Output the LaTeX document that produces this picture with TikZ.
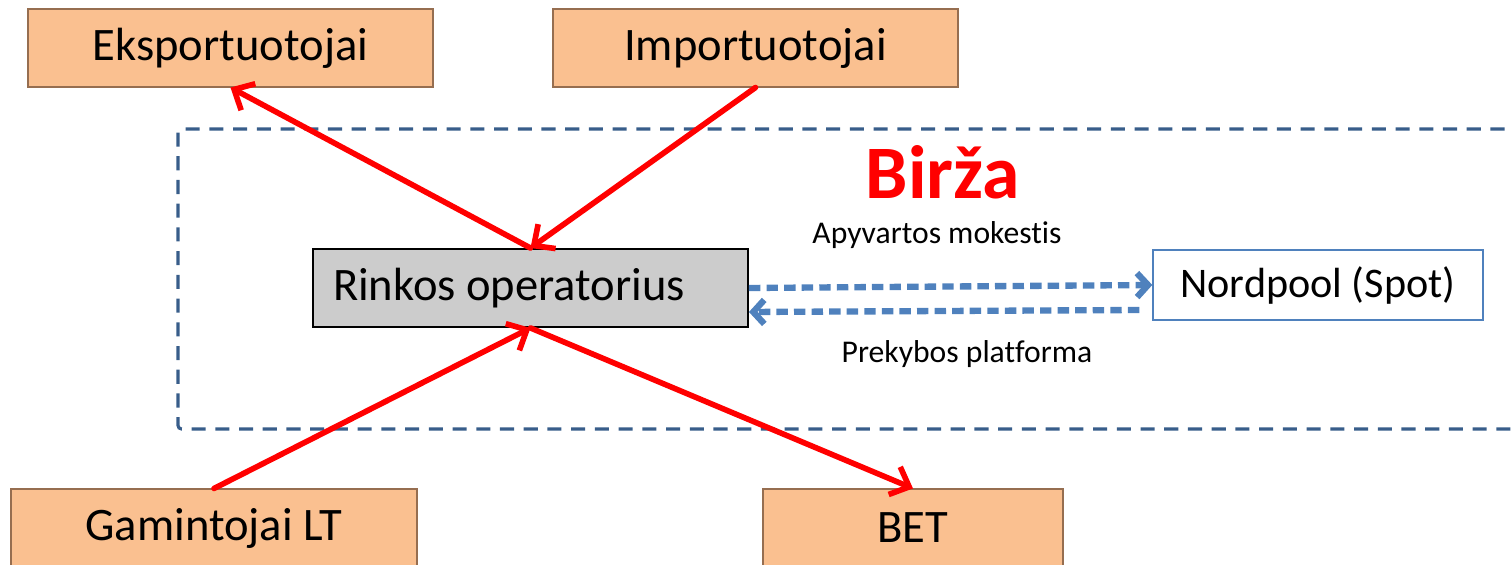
\documentclass[tikz,border=0pt]{standalone}
\usepackage{fontspec}
\setmainfont{Carlito}[Ligatures=NoCommon]
\usetikzlibrary{arrows.meta, positioning, calc}
\definecolor{partyorange}{RGB}{250,192,144}
\definecolor{partyedge}{RGB}{150,110,80}
\definecolor{operatorgrey}{RGB}{204,204,204}
\definecolor{spotblue}{RGB}{79,129,189}
\definecolor{frameblue}{RGB}{56,93,138}
\definecolor{flowred}{RGB}{255,0,0}

\begin{document}
\begin{tikzpicture}[
    party/.style={rectangle, draw=partyedge, line width=0.6pt, fill=partyorange,
                  minimum width=#1, minimum height=1.56cm, font=\fontsize{26.5}{30}\selectfont},
    flow/.style={draw=flowred, line width=3.2pt, line cap=round,
                 -{Straight Barb[length=3.2mm,width=6mm]}},
    trade/.style={draw=spotblue, line width=3.6pt, dash pattern=on 6.5pt off 3.5pt,
                  -{Straight Barb[length=2.2mm,width=4.8mm]}},
    lbl/.style={font=\fontsize{18}{21}\selectfont}
]
    \useasboundingbox (0,0) rectangle (30.22,-11.3);

    % Exchange frame
    \draw[frameblue, line width=1.8pt, dash pattern=on 8pt off 5.5pt, rounded corners=2pt]
        (3.56,-2.58) rectangle (30.6,-8.58);
    \node[font=\fontsize{43}{47}\selectfont\bfseries, text=flowred] (birza) at (18.86,-3.44) {Birža};

    % Market parties
    \node[party=8.1cm] (eksp) at (4.61,-0.96) {Eksportuotojai};
    \node[party=8.1cm] (imp) at (15.11,-0.96) {Importuotojai};
    \node[party=8.12cm] (gam) at (4.28,-10.56) {Gamintojai LT};
    \node[party=6cm] (bet) at (18.26,-10.56) {BET};

    % Operator and spot market
    \node[rectangle, draw=black, line width=1.1pt, fill=operatorgrey, text width=7.9cm,
          inner xsep=0.4cm, align=flush left, minimum height=1.56cm,
          font=\fontsize{26.5}{30}\selectfont] (rinkos) at (10.61,-5.76) {Rinkos operatorius};
    \node[rectangle, draw=spotblue, line width=0.8pt, fill=white, minimum width=6.6cm,
          minimum height=1.4cm, font=\fontsize{24}{28}\selectfont] (nord) at (26.36,-5.70) {Nordpool (Spot)};

    \node[lbl] (fee) at (18.74,-4.70) {Apyvartos mokestis};
    \node[lbl] (platf) at (19.34,-7.08) {Prekybos platforma};

    % Flows
    \draw[flow] (rinkos.north) -- (eksp.south);
    \draw[flow] (imp.south) -- (rinkos.north);
    \draw[flow] (gam.north) -- (rinkos.south);
    \draw[flow] (rinkos.south) -- (bet.north);

    \draw[trade] (rinkos.east) -- (nord.west);
    \draw[trade] ([xshift=-0.26cm,yshift=-0.5cm]nord.west) -- ([yshift=-0.48cm]rinkos.east);
\end{tikzpicture}
\end{document}
